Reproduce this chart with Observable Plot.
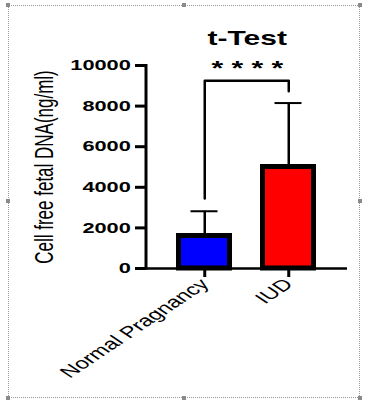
<!DOCTYPE html>
<html><head><meta charset="utf-8">
<script src="https://cdn.jsdelivr.net/npm/d3@7"></script>
<script src="https://cdn.jsdelivr.net/npm/@observablehq/plot@0.6"></script>
<style>
html,body{margin:0;padding:0;background:#fff;}
#wrap{position:relative;width:376px;height:406px;overflow:hidden;background:#fff;}
#chart svg{display:block;}
#chart svg *{vector-effect:non-scaling-stroke;}
.border{position:absolute;left:8px;top:5px;width:352px;height:393px;border:1px dotted #9a9a9a;box-sizing:border-box;pointer-events:none;}
.h{position:absolute;width:4px;height:4px;background:#8a8a8a;}
</style></head><body>
<div id="wrap"><div id="chart"></div><div class="border"></div></div>
<script>
// ---- data ----
const groups = ["Normal Pragnancy", "IUD"];
const means = [1600, 5000];
const sdTops = [2820, 8150];
const barColors = ["#0000ff", "#ff0000"];
const yTicks = [0, 2000, 4000, 6000, 8000, 10000];
const titleText = "t-Test";
const yLabel = "Cell free fetal DNA(ng/ml)";
const sigLabel = "* * * *";
const sigY = 9850;
const bracketY = 9250;
const bracketLeftBottom = 3450;
const bracketRightBottom = 8730;

// ---- build ----
const S = 1.5;                 // horizontal stretch of the original picture
const W = 376 / S;
const data = groups.map((g, i) => ({group: g, mean: means[i], top: sdTops[i], color: barColors[i]}));
const bracket = [
  {group: groups[0], y: bracketLeftBottom},
  {group: groups[0], y: bracketY},
  {group: groups[1], y: bracketY},
  {group: groups[1], y: bracketRightBottom}
];

// left axis line drawn along the frame's left edge
const yAxisLine = (index, scales, values, dims) => {
  const g = d3.create("svg:g");
  g.append("line")
    .attr("x1", dims.marginLeft).attr("x2", dims.marginLeft)
    .attr("y1", dims.marginTop - 1).attr("y2", dims.height - dims.marginBottom + 1.5)
    .attr("stroke", "black").attr("stroke-width", 3);
  return g.node();
};

const plot = Plot.plot({
  width: W, height: 406,
  marginLeft: 146 / S, marginRight: (376 - 347) / S, marginTop: 65, marginBottom: 138,
  style: {fontFamily: "'Liberation Sans', Arial, sans-serif", background: "white", color: "black", overflow: "visible"},
  x: {domain: groups, paddingInner: 0.388, paddingOuter: 0.376, label: null},
  y: {domain: [0, 10000], label: null},
  color: {type: "identity"},
  marks: [
    Plot.barY(data, {x: "group", y: "mean", fill: "color", stroke: "black", strokeWidth: 5}),
    Plot.ruleX(data, {x: "group", y1: "mean", y2: "top", stroke: "black", strokeWidth: 2.5}),
    Plot.tickY(data, {x: "group", y: "top", stroke: "black", strokeWidth: 2, insetLeft: 8, insetRight: 8}),
    Plot.line(bracket, {x: "group", y: "y", stroke: "black", strokeWidth: 2.5, curve: "linear"}),
    Plot.text([sigLabel], {y: () => sigY, text: d => d, fontSize: 20, fontWeight: "bold"}),
    Plot.text([titleText], {frameAnchor: "top", dy: -35, text: d => d, fontSize: 20, fontWeight: "bold"}),
    Plot.text([yLabel], {frameAnchor: "left", textAnchor: "middle", rotate: -90, dx: (44 - 146) / S, text: d => d, fontSize: 17}),
    Plot.axisY({ticks: yTicks, tickFormat: d => String(d), tickSize: 11 / S, tickPadding: 5 / S,
                fontSize: 14.5, fontWeight: "bold", strokeWidth: 3}),
    Plot.axisX({tickSize: 9, tickPadding: 4, tickRotate: -45, fontSize: 16, strokeWidth: 3}),
    Plot.ruleY([0], {stroke: "black", strokeWidth: 2.5}),
    yAxisLine
  ]
});
plot.setAttribute("width", 376);
plot.setAttribute("preserveAspectRatio", "none");
plot.style.width = "376px";
plot.style.height = "406px";
plot.style.maxWidth = "none";
document.getElementById("chart").appendChild(plot);

// selection handles of the frame
const wrap = document.getElementById("wrap");
[[8,5],[184,5],[360,5],[8,201],[360,201],[8,398],[184,398],[360,398]].forEach(([x,y]) => {
  const d = document.createElement("div");
  d.className = "h";
  d.style.left = (x - 2) + "px";
  d.style.top = (y - 2) + "px";
  wrap.appendChild(d);
});
</script>
</body></html>
